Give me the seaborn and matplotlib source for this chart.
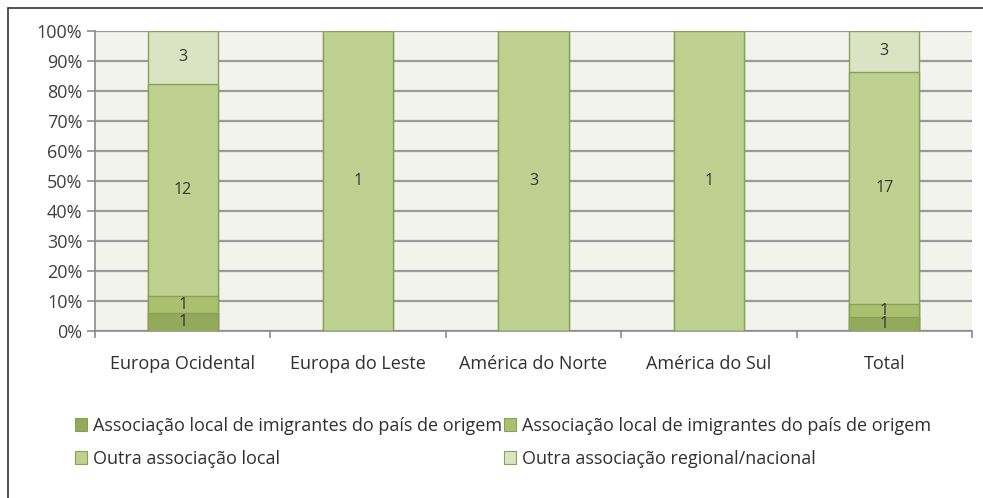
import matplotlib
matplotlib.use("Agg")
import matplotlib.pyplot as plt
import matplotlib.patches as mpatches
import matplotlib.lines as mlines
import numpy as np
import pandas as pd
import seaborn as sns

# ---- data ----
categories = ["Europa Ocidental", "Europa do Leste", "América do Norte", "América do Sul", "Total"]
series_names = [
    "Associação local de imigrantes do país de origem",
    "Associação local de imigrantes do país de origem ",
    "Outra associação local",
    "Outra associação regional/nacional",
]
s1 = [1, 0, 0, 0, 1]
s2 = [1, 0, 0, 0, 1]
s3 = [12, 1, 3, 1, 17]
s4 = [3, 0, 0, 0, 3]
ytick_labels = ["0%", "10%", "20%", "30%", "40%", "50%", "60%", "70%", "80%", "90%", "100%"]

colors = ["#93A95B", "#A9C16E", "#BED190", "#DAE4C4"]
edge = "#8AA055"

sns.set_theme(style="white")
plt.rcParams["font.family"] = ["Open Sans", "DejaVu Sans"]

fig = plt.figure(figsize=(9.83, 4.98), dpi=100)
fig.patch.set_facecolor("white")
ax = fig.add_axes([95/983, 1 - 331/498, (972 - 95)/983, 300/498])
ax.set_facecolor("#F3F3EE")

counts = np.array([s1, s2, s3, s4], dtype=float)
totals = counts.sum(axis=0)
pct = counts / totals * 100
cum = np.cumsum(pct, axis=0)

# draw from top layer down so lower layers overlay
for i in range(3, -1, -1):
    df = pd.DataFrame({"cat": categories, "val": cum[i]})
    sns.barplot(data=df, x="cat", y="val", order=categories, color=colors[i],
                width=0.4, edgecolor=edge, linewidth=1.0, saturation=1, ax=ax, zorder=3)

# labels
for i in range(4):
    for j in range(len(categories)):
        if counts[i, j] > 0:
            yc = cum[i, j] - pct[i, j] / 2
            ax.text(j, yc, f"{int(counts[i, j])}", ha="center", va="center",
                    fontsize=11.5, color="#333333", zorder=5)

ax.set_ylim(0, 100)
ax.set_xlim(-0.5, len(categories) - 0.5)
ax.set_yticks(np.arange(0, 101, 10))
ax.set_yticklabels(ytick_labels)
ax.yaxis.grid(True, color="#9A9A9A", linewidth=1.6, zorder=0)
ax.set_axisbelow(True)
ax.set_xlabel("")
ax.set_ylabel("")

for side in ["top", "right"]:
    ax.spines[side].set_visible(False)
for side in ["left", "bottom"]:
    ax.spines[side].set_color("#8C8C8C")
    ax.spines[side].set_linewidth(1.2)

ax.tick_params(axis="y", which="major", left=True, length=6, width=1.2, color="#8C8C8C",
               pad=3, labelsize=13, labelcolor="#404040")
ax.tick_params(axis="x", which="major", length=0, pad=17, labelsize=13, labelcolor="#303030")
ax.set_xticks(np.arange(-0.5, len(categories), 1.0), minor=True)
ax.tick_params(axis="x", which="minor", bottom=True, length=5, width=1.2, color="#8C8C8C")

# legend (row-wise order: s1, s2 / s3, s4)
handles = [mpatches.Patch(facecolor=colors[i], edgecolor=edge, linewidth=0.8, label=series_names[i])
           for i in range(4)]
ordered = [handles[0], handles[2], handles[1], handles[3]]
leg = fig.legend(handles=ordered, loc="upper left", bbox_to_anchor=(62/983, 1 - 404/498),
                 ncol=2, frameon=False, fontsize=13, handlelength=0.7, handleheight=0.7,
                 handletextpad=0.3, columnspacing=0.1, labelspacing=0.85,
                 borderpad=0.2, labelcolor="#303030")

# outer frame (left and top visible)
fig.add_artist(mlines.Line2D([8/983, 8/983], [0, 1 - 8/498], color="#333333", linewidth=1.2,
                             transform=fig.transFigure))
fig.add_artist(mlines.Line2D([8/983, 1], [1 - 8/498, 1 - 8/498], color="#333333", linewidth=1.2,
                             transform=fig.transFigure))

fig.savefig("out.png", dpi=100)
